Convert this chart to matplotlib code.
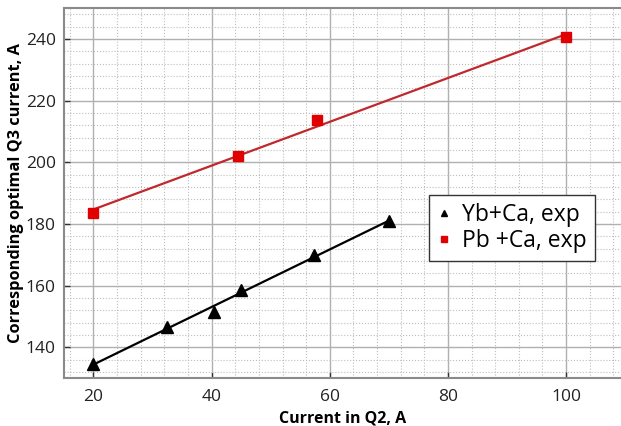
import numpy as np
import matplotlib.pyplot as plt
from matplotlib.ticker import MultipleLocator

# Yb+Ca measurements
yb_q2 = [20, 32.5, 40.4, 45.0, 57.4, 70.0]
yb_q3 = [134.5, 146.7, 151.4, 158.5, 170.0, 180.8]

# Pb+Ca measurements
pb_q2 = [20, 44.4, 57.8, 100]
pb_q3 = [183.5, 202.1, 213.8, 240.5]

plt.rcParams['font.family'] = ['Open Sans', 'DejaVu Sans']

fig = plt.figure(figsize=(6.21, 4.26), dpi=100)
ax = fig.add_axes([0.103, 0.1127, 0.897, 0.868])

# linear fits through each series
for q2, q3, col in [(yb_q2, yb_q3, 'black'), (pb_q2, pb_q3, '#c0282d')]:
    k, b = np.polyfit(q2, q3, 1)
    xs = np.array([min(q2), max(q2)])
    ax.plot(xs, k * xs + b, '-', color=col, lw=1.6, zorder=3)

ax.plot(yb_q2, yb_q3, '^', color='black', ms=8, ls='none', label='Yb+Ca, exp', zorder=4)
ax.plot(pb_q2, pb_q3, 's', color='#e00000', ms=7.5, ls='none', label='Pb +Ca, exp', zorder=4)

ax.set_xlim(15, 109.3)
ax.set_ylim(130, 250)
ax.xaxis.set_major_locator(MultipleLocator(20))
ax.yaxis.set_major_locator(MultipleLocator(20))
ax.xaxis.set_minor_locator(MultipleLocator(4))
ax.yaxis.set_minor_locator(MultipleLocator(4))

ax.grid(which='major', color='#b0b0b0', lw=1.0, ls='-')
ax.grid(which='minor', color='#bdbdbd', lw=0.8, ls=':')
ax.set_axisbelow(True)

for side in ['left', 'bottom', 'top']:
    ax.spines[side].set_color('#8a8a8a')
    ax.spines[side].set_linewidth(1.5)
ax.spines['right'].set_visible(False)

ax.tick_params(which='major', direction='in', length=4, width=1, color='#333333',
               labelsize=12.5, labelcolor='#222222', pad=6)
ax.tick_params(axis='x', which='major', pad=8)
ax.tick_params(which='minor', length=0)

ax.set_xlabel('Current in Q2, A', fontsize=11.5, fontweight='bold', labelpad=4)
ax.set_ylabel('Corresponding optimal Q3 current, A', fontsize=11.8, fontweight='bold',
              labelpad=1)

leg = ax.legend(loc='upper left', bbox_to_anchor=(0.655, 0.495), borderaxespad=0,
                fontsize=16.5, markerscale=0.55, handlelength=0.6, handletextpad=0.5,
                borderpad=0.35, labelspacing=0.1, fancybox=False, framealpha=1)
leg.get_frame().set_edgecolor('#333333')
leg.get_frame().set_linewidth(1.0)

fig.savefig('out.png', dpi=100)
